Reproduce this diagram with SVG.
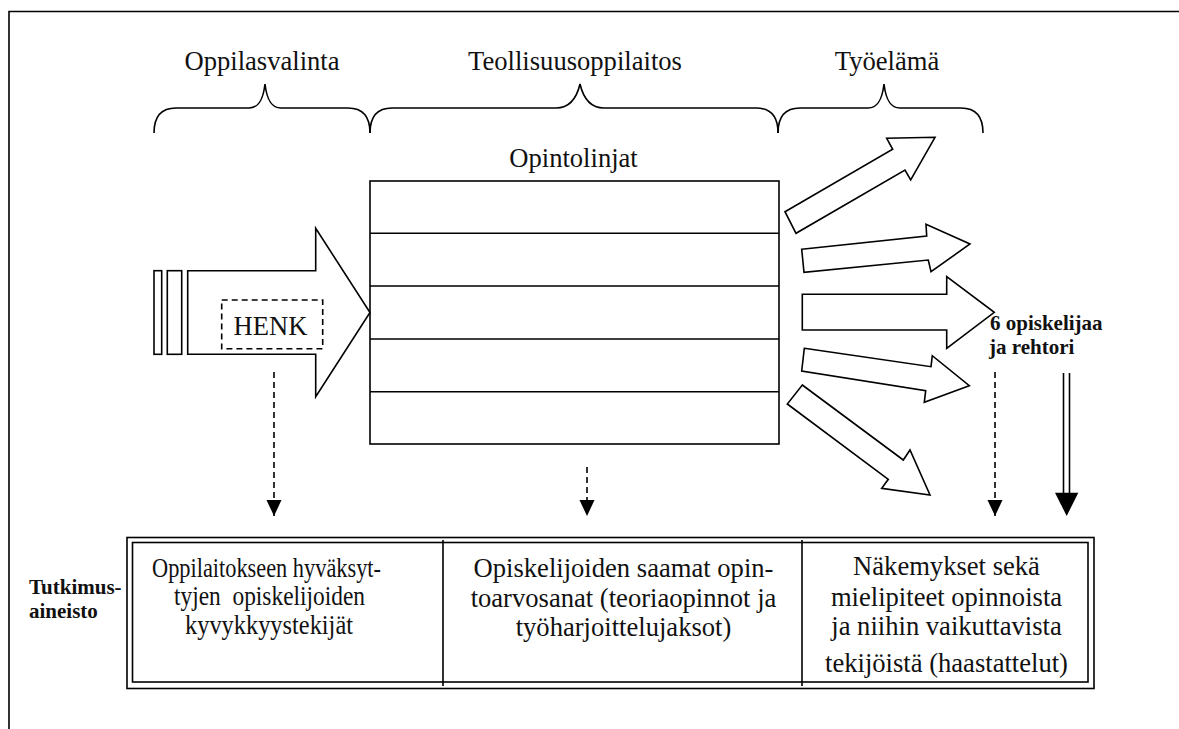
<svg xmlns="http://www.w3.org/2000/svg" width="1179" height="729" viewBox="0 0 1179 729">
  <style>
    .ln { fill: none; stroke: #000; stroke-width: 1.6; }
    .blk { fill: #fff; stroke: #000; stroke-width: 1.6; stroke-linejoin: miter; }
    .dash { fill: none; stroke: #000; stroke-width: 1.6; stroke-dasharray: 6 4; }
    .t { font-family: "Liberation Serif", "Times New Roman", serif; font-size: 26.6px; fill: #111; }
    .tc { text-anchor: middle; }
    .b { font-family: "Liberation Serif", "Times New Roman", serif; font-size: 21px; font-weight: bold; fill: #111; }
  </style>
  <defs>
    <marker id="tri" markerWidth="16" markerHeight="16" viewBox="0 0 16 16" refX="16" refY="8" orient="auto" markerUnits="userSpaceOnUse">
      <path d="M0,0.5 L16,8 L0,15.5 Z" fill="#000"/>
    </marker>
  </defs>
  <rect width="1179" height="729" fill="#fff"/>

  <!-- page frame -->
  <g id="frame">
    <path class="ln" d="M9,729 L9,11.5 L1179,11.5" stroke-width="2"/>
  </g>

  <!-- phase headings with braces -->
  <g id="phase-selection">
    <text class="t tc" x="262" y="70">Oppilasvalinta</text>
    <path class="ln" d="M154,133 C154,116 161,108 176,108 L249,108 C258,108 263,101 265,84 C267,101 272,108 281,108 L348,108 C363,108 370,116 370,133"/>
  </g>
  <g id="phase-school">
    <text class="t tc" x="575" y="70">Teollisuusoppilaitos</text>
    <path class="ln" d="M370,133 C370,116 377,108 392,108 L556,108 C568,108 576,101 580,84 C584,101 592,108 604,108 L756,108 C771,108 778,116 778,133"/>
  </g>
  <g id="phase-work">
    <text class="t tc" x="887" y="70">Työelämä</text>
    <path class="ln" d="M778,133 C778,116 785,108 800,108 L868,108 C877,108 882,101 884,84 C886,101 891,108 900,108 L961,108 C976,108 983,116 983,133"/>
  </g>

  <!-- incoming students -->
  <g id="intake">
    <rect class="blk" x="154" y="270.7" width="7.7" height="83.6"/>
    <rect class="blk" x="167.3" y="270.7" width="14.4" height="83.6"/>
    <polygon class="blk" points="187.7,270.7 315.7,270.7 315.7,228.3 370,312.5 315.7,396.7 315.7,354.3 187.7,354.3"/>
    <rect class="dash" x="221.7" y="300" width="101" height="48.7"/>
    <text class="t tc" x="270.5" y="335">HENK</text>
  </g>

  <!-- study lines -->
  <g id="study-lines">
    <text class="t tc" x="573.5" y="166.5">Opintolinjat</text>
    <rect class="ln" x="370" y="181" width="409" height="263"/>
    <path class="ln" d="M370,233.3 H779 M370,286 H779 M370,339 H779 M370,391.7 H779"/>
  </g>

  <!-- outgoing students -->
  <g id="outflow">
    <polygon class="blk" points="785,211.7 892.7,149.3 886.7,138.3 935,137.3 910.7,180 905,170 796,233.3"/>
    <polygon class="blk" points="801.7,249.3 926.7,236 926,224.3 970,244 931,271.7 928.3,260 804,272.3"/>
    <polygon class="blk" points="802.3,294.3 946.7,294.3 946.7,276.7 994.3,312.3 946.7,348.3 946.7,330 802.3,330"/>
    <polygon class="blk" points="804.3,348.3 931,366.7 932.3,355.7 969.3,385.7 924.3,402.3 925.7,390.7 801.7,371"/>
    <polygon class="blk" points="802.3,385 903.3,460 910,450 930,495 881.7,488.3 888.3,479.3 787.3,404"/>
  </g>

  <g id="interviewees">
    <text class="b" x="990" y="330">6 opiskelijaa</text>
    <text class="b" x="989" y="354">ja rehtori</text>
  </g>

  <!-- connectors to the research data -->
  <g id="connectors">
    <line class="dash" x1="274" y1="372" x2="274" y2="516" marker-end="url(#tri)"/>
    <line class="dash" x1="587" y1="467" x2="587" y2="516" marker-end="url(#tri)"/>
    <line class="dash" x1="995" y1="372" x2="995" y2="516" marker-end="url(#tri)"/>
    <line class="ln" x1="1063.5" y1="373" x2="1063.5" y2="494" stroke-width="2"/>
    <line class="ln" x1="1069.5" y1="373" x2="1069.5" y2="494" stroke-width="2"/>
    <polygon points="1055,492.7 1078.3,492.7 1066.7,516" fill="#000"/>
  </g>

  <!-- research data table -->
  <g id="research-data">
    <text class="b" x="29" y="594">Tutkimus-</text>
    <text class="b" x="29" y="618">aineisto</text>
    <rect class="ln" x="127" y="537.5" width="967" height="151" stroke-width="2"/>
    <rect class="ln" x="132.5" y="542.5" width="955.5" height="139.5" stroke-width="2"/>
    <path class="ln" d="M443,540 V686 M802,540 V686" stroke-width="1.2"/>
  </g>
  <!-- first column is set in condensed type -->
  <g id="col-aptitude">
    <text class="t tc" x="266.5" y="577" textLength="229" lengthAdjust="spacingAndGlyphs">Oppilaitokseen hyväksyt-</text>
    <text class="t tc" x="269.5" y="605" textLength="191" lengthAdjust="spacingAndGlyphs" xml:space="preserve">tyjen  opiskelijoiden</text>
    <text class="t tc" x="269" y="634" textLength="168" lengthAdjust="spacingAndGlyphs">kyvykkyystekijät</text>
  </g>
  <g id="col-grades">
    <text class="t tc" x="623.5" y="577">Opiskelijoiden saamat opin-</text>
    <text class="t tc" x="623.5" y="606.5">toarvosanat (teoriaopinnot ja</text>
    <text class="t tc" x="623.5" y="636">työharjoittelujaksot)</text>
  </g>
  <g id="col-interviews">
    <text class="t tc" x="946.5" y="575">Näkemykset sekä</text>
    <text class="t tc" x="946.5" y="605.5">mielipiteet opinnoista</text>
    <text class="t tc" x="946.5" y="635">ja niihin vaikuttavista</text>
    <text class="t tc" x="946.5" y="671.5">tekijöistä (haastattelut)</text>
  </g>
</svg>
